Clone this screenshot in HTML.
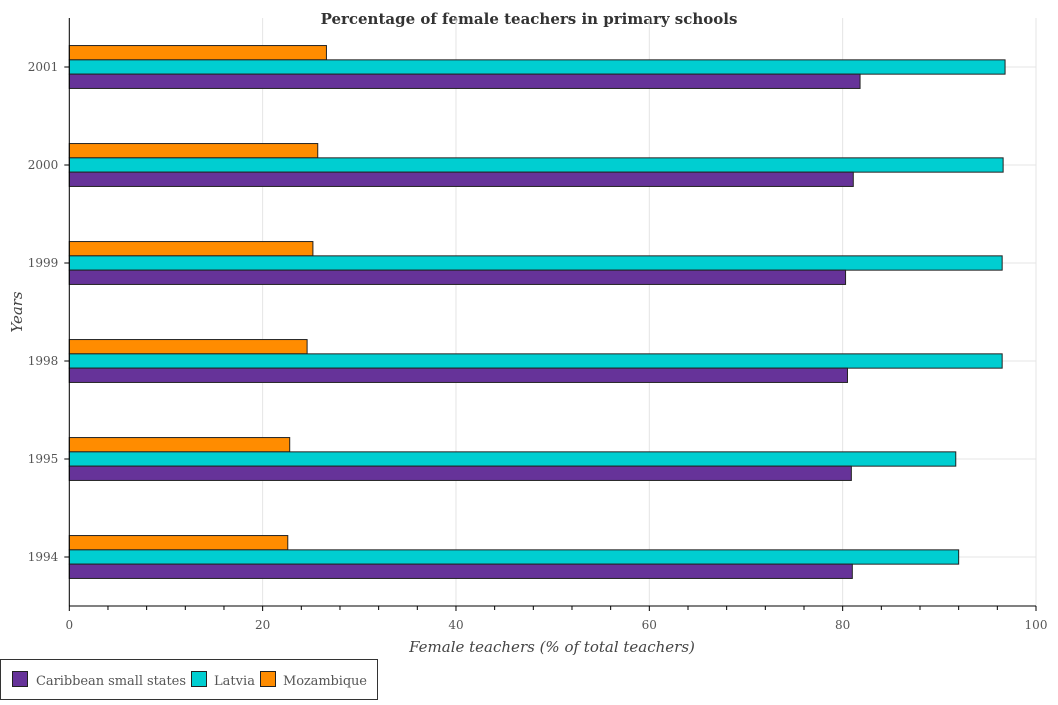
<!DOCTYPE html>
<html><head><meta charset="utf-8"><style>
body{margin:0;background:#fff;}
svg text{font-family:"DejaVu Serif","Liberation Serif",serif;}
</style></head><body>
<svg id="c" width="1058" height="700" xmlns="http://www.w3.org/2000/svg">
<text x="529" y="24" text-anchor="middle" font-size="15" font-weight="bold" fill="#333">Percentage of female teachers in primary schools</text>
<g id="grid"></g><g id="bars"></g><g id="axes"></g>
<text x="552" y="652" text-anchor="middle" font-size="15" font-style="italic" fill="#444">Female teachers (% of total teachers)</text>
<text x="22" y="312" text-anchor="middle" font-size="15" font-style="italic" fill="#444" transform="rotate(-90 22 312)">Years</text>
<g>
<rect x="0.5" y="659.5" width="377" height="40" fill="#fff" stroke="#333"/>
<rect x="12.5" y="671.5" width="15" height="15" fill="#663399" stroke="#222"/>
<text x="36" y="685" font-size="13" fill="#555" textLength="150">Caribbean small states</text>
<rect x="191.5" y="671.5" width="15" height="15" fill="#00CED1" stroke="#222"/>
<text x="214" y="685" font-size="13" fill="#555" textLength="41">Latvia</text>
<rect x="260.5" y="671.5" width="15" height="15" fill="#FF8C00" stroke="#222"/>
<text x="283" y="685" font-size="13" fill="#555" textLength="84">Mozambique</text>
</g>
</svg>
<script>
const years=["1994","1995","1998","1999","2000","2001"];
const caribbean=[81.0,80.9,80.5,80.3,81.1,81.8];
const latvia=[92.0,91.7,96.5,96.5,96.6,96.8];
const mozambique=[22.6,22.8,24.6,25.2,25.7,26.6];
const xTicks=[0,20,40,60,80,100];
const NS="http://www.w3.org/2000/svg";
const x0=69.3,x1=1036,yTop=18,yBot=606;
const X=v=>x0+(x1-x0)*v/100;
const step=(yBot-yTop)/years.length;
const Y=i=>yBot-step*(i+0.5);
function mk(t,a,p){const e=document.createElementNS(NS,t);for(const k in a)e.setAttribute(k,a[k]);p.appendChild(e);return e;}
const g=document.getElementById('grid'),b=document.getElementById('bars'),ax=document.getElementById('axes');
for(let v=0;v<=100;v+=20){const l=mk('line',{x1:X(v),x2:X(v),y1:yTop,y2:yBot,stroke:'#e4e4e4'},g);

}
years.forEach((y,i)=>{const l=mk('line',{x1:x0,x2:x1,y1:Y(i),y2:Y(i),stroke:'#e4e4e4'},g);

});
const series=[[mozambique,'#FF8C00','mozambique',-1],[latvia,'#00CED1','latvia',0],[caribbean,'#663399','caribbean',1]];
const bh=14.3;
series.forEach(([arr,col,nm,off])=>{arr.forEach((v,i)=>{const yc=Y(i)+off*bh;
const r=mk('rect',{x:x0,y:yc-bh/2,width:X(v)-x0,height:bh,fill:col,stroke:'#222','stroke-width':1},b);

});});
mk('line',{x1:x0,x2:x0,y1:yTop,y2:yBot,stroke:'#000'},ax);
mk('line',{x1:x0,x2:x1,y1:yBot,y2:yBot,stroke:'#000'},ax);
for(let v=0;v<=100;v+=4){mk('line',{x1:X(v),x2:X(v),y1:yBot,y2:yBot+(v%20==0?5:4),stroke:'#000'},ax);}
xTicks.forEach(v=>{const t=mk('text',{x:X(v),y:yBot+23,'text-anchor':'middle','font-size':12,fill:'#555'},ax);t.textContent=v;

});
years.forEach((y,i)=>{mk('line',{x1:x0-5,x2:x0,y1:Y(i),y2:Y(i),stroke:'#000'},ax);
const t=mk('text',{x:x0-11,y:Y(i)+4,'text-anchor':'end','font-size':12,fill:'#555'},ax);t.textContent=y;

});
</script>
</body></html>
